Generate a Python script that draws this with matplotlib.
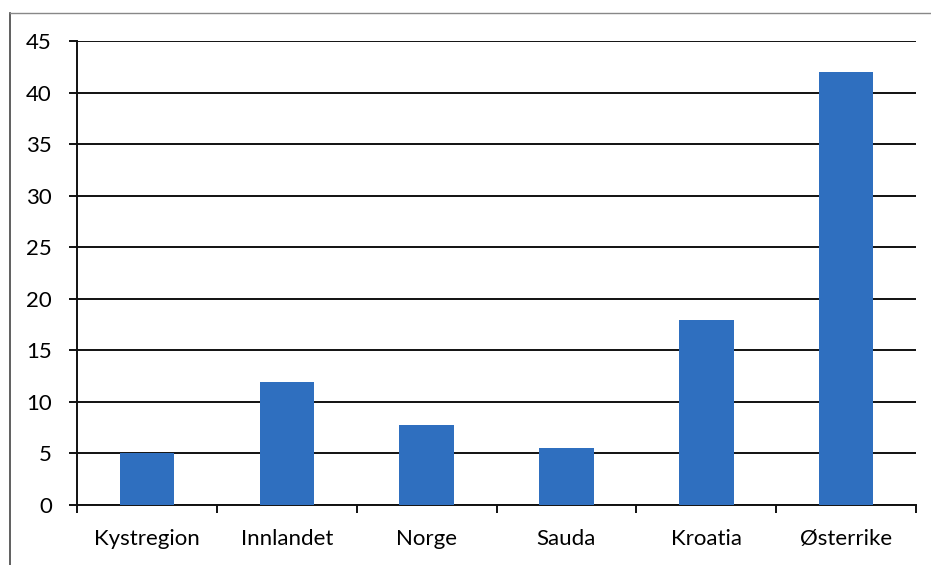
import matplotlib
matplotlib.use("Agg")
import matplotlib.pyplot as plt
from matplotlib.lines import Line2D
import numpy as np

categories = ["Kystregion", "Innlandet", "Norge", "Sauda", "Kroatia", "Østerrike"]
values = [5.0, 11.9, 7.8, 5.5, 17.9, 42.0]
yticks = [0, 5, 10, 15, 20, 25, 30, 35, 40, 45]

plt.rcParams['font.family'] = ['Lato', 'DejaVu Sans']

fig = plt.figure(figsize=(9.31, 5.65), dpi=100)
ax = fig.add_axes([0.0827, 0.1062, 0.9013, 0.8212])

x = np.arange(len(categories))
ax.bar(x, values, width=0.39, color='#2f6fbf', zorder=3)

ax.set_xlim(-0.5, len(categories) - 0.5)
ax.set_ylim(0, 45)
ax.set_yticks(yticks)
ax.set_yticklabels([str(t) for t in yticks], fontsize=16)
ax.yaxis.grid(True, color='#111111', linewidth=1.4, zorder=0)

ax.set_xticks(x)
ax.set_xticklabels(categories, fontsize=16)
ax.tick_params(axis='x', which='major', length=0, pad=17)
ax.set_xticks(np.arange(-0.5, len(categories)), minor=True)
ax.tick_params(axis='x', which='minor', length=6, width=1.4, color='#111111', direction='out')
ax.tick_params(axis='y', length=6, width=1.4, color='#111111', pad=12)

for s in ['top', 'right']:
    ax.spines[s].set_visible(False)
for s in ['left', 'bottom']:
    ax.spines[s].set_color('#111111')
    ax.spines[s].set_linewidth(1.4)

# outer chart frame
fig.add_artist(Line2D([10/931, 10/931], [0, 1 - 13/565], transform=fig.transFigure, color='#444444', lw=1.2))
fig.add_artist(Line2D([10/931, 1], [1 - 13/565, 1 - 13/565], transform=fig.transFigure, color='#888888', lw=1.0))

fig.savefig("out.png", dpi=100, facecolor='white')
